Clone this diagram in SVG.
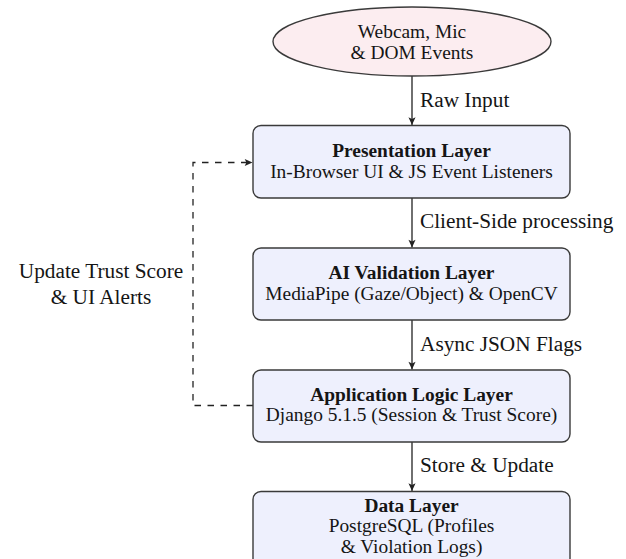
<svg xmlns="http://www.w3.org/2000/svg" width="626" height="559" viewBox="0 0 626 559">
<defs>
<style>
.box{fill:#eef0fd;stroke:#3a3a3a;stroke-width:1.4}
.ell{fill:#fcedf0;stroke:#3a3a3a;stroke-width:1.4}
text{font-family:"Liberation Serif","Times New Roman",serif;fill:#151515}
.t{font-size:19.4px;text-anchor:middle}
.b{font-weight:bold}
.lbl{font-size:21.3px}
.c{text-anchor:middle}
.arr{fill:none;stroke:#222;stroke-width:1.3}
.dash{stroke-dasharray:6.5 6.5}
</style>
<marker id="ah" markerUnits="userSpaceOnUse" markerWidth="10" markerHeight="10" viewBox="-8 -4 9 8" refX="0" refY="0" orient="auto">
<path d="M0,0 L-7,-3.2 L-5.5,0 L-7,3.2 Z" fill="#222"/>
</marker>
</defs>
<g id="connectors">
<path class="arr" d="M412,76 V125" marker-end="url(#ah)"/>
<path class="arr" d="M412,198 V247.5" marker-end="url(#ah)"/>
<path class="arr" d="M412,320 V369.5" marker-end="url(#ah)"/>
<path class="arr" d="M412,442 V491" marker-end="url(#ah)"/>
<path class="arr dash" d="M253,405.5 H193 V162.5 H252.5" marker-end="url(#ah)"/>
<text class="lbl" x="420" y="107">Raw Input</text>
<text class="lbl" x="420" y="228">Client-Side processing</text>
<text class="lbl" x="420" y="351">Async JSON Flags</text>
<text class="lbl" x="420" y="472">Store &amp; Update</text>
<text class="lbl c" x="101" y="278">Update Trust Score</text>
<text class="lbl c" x="101" y="304">&amp; UI Alerts</text>
</g>
<g id="input">
<ellipse class="ell" cx="412" cy="41.5" rx="139" ry="34.5"/>
<text class="t" x="412" y="37.5">Webcam, Mic</text>
<text class="t" x="412" y="58.5">&amp; DOM Events</text>
</g>
<g id="presentation">
<rect class="box" x="253" y="125.5" width="317" height="72.5" rx="8"/>
<text class="t b" x="411.5" y="157">Presentation Layer</text>
<text class="t" x="411.5" y="178">In-Browser UI &amp; JS Event Listeners</text>
</g>
<g id="ai">
<rect class="box" x="253" y="248" width="317" height="72" rx="8"/>
<text class="t b" x="411.5" y="279">AI Validation Layer</text>
<text class="t" x="411.5" y="300">MediaPipe (Gaze/Object) &amp; OpenCV</text>
</g>
<g id="app">
<rect class="box" x="253" y="370" width="317" height="72" rx="8"/>
<text class="t b" x="411.5" y="400.5">Application Logic Layer</text>
<text class="t" x="411.5" y="421">Django 5.1.5 (Session &amp; Trust Score)</text>
</g>
<g id="data">
<rect class="box" x="253" y="491.5" width="317" height="80" rx="8"/>
<text class="t b" x="411.5" y="511.5">Data Layer</text>
<text class="t" x="411.5" y="532">PostgreSQL (Profiles</text>
<text class="t" x="411.5" y="552.5">&amp; Violation Logs)</text>
</g>
</svg>
